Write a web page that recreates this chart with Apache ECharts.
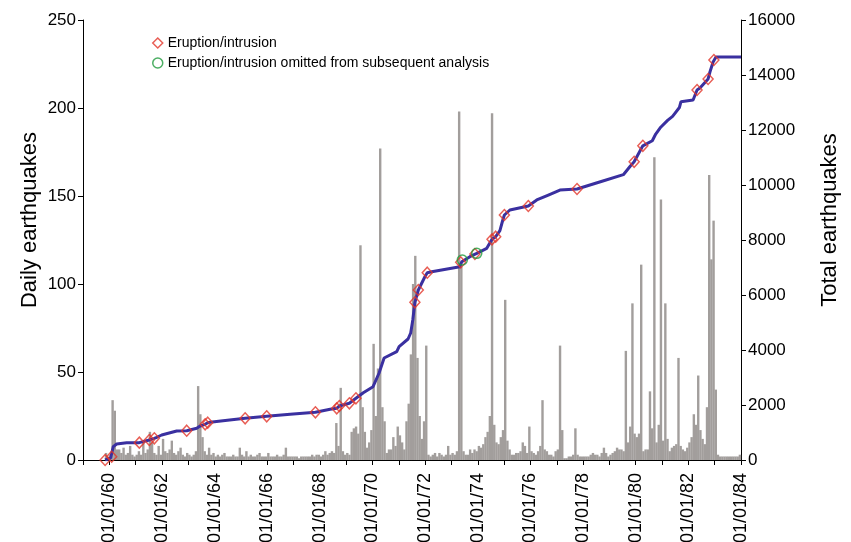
<!DOCTYPE html>
<html>
<head>
<meta charset="utf-8">
<script src="https://cdn.jsdelivr.net/npm/echarts@6/dist/echarts.min.js"></script>
<style>
html,body{margin:0;padding:0;background:#fff;overflow:hidden;}
#chart{width:851px;height:542px;}
</style>
</head>
<body>
<div id="chart"></div>
<script>
// ---- DATA ----
// Peak daily earthquake counts per month, from Jan 1959 to Dec 1983
const barStartYear = 1959;
const dailyQuakes = [
  /*1959*/ 0,0,0,0,0,0,0,0,0,0,4,2,
  /*1960*/ 3,34,28,6,6,4,7,3,4,8,3,2,
  /*1961*/ 3,5,3,11,4,6,16,10,4,3,8,3,
  /*1962*/ 12,5,4,6,11,4,3,5,7,3,2,4,
  /*1963*/ 3,2,3,5,42,26,13,5,3,7,3,4,
  /*1964*/ 2,3,2,3,4,2,2,2,3,2,2,7,
  /*1965*/ 3,2,5,2,3,2,2,3,4,2,2,2,
  /*1966*/ 4,2,2,2,3,2,2,3,7,2,2,2,
  /*1967*/ 2,2,1,2,2,2,2,2,3,2,3,3,
  /*1968*/ 2,3,5,3,4,5,4,21,8,41,5,3,
  /*1969*/ 4,3,16,18,19,15,122,30,16,7,10,17,
  /*1970*/ 66,25,52,177,30,22,4,6,6,13,8,19,
  /*1971*/ 14,10,6,22,32,60,100,116,58,25,12,22,
  /*1972*/ 65,3,2,3,4,2,4,3,2,3,8,3,
  /*1973*/ 4,3,5,198,110,5,3,3,6,4,6,5,
  /*1974*/ 8,7,9,13,16,25,197,20,10,9,13,17,
  /*1975*/ 91,11,6,3,3,4,4,5,10,8,4,19,
  /*1976*/ 5,4,3,5,8,34,6,5,3,3,2,5,
  /*1977*/ 6,65,17,1,1,2,2,3,18,3,2,2,
  /*1978*/ 2,2,2,3,4,3,3,2,4,7,4,2,
  /*1979*/ 3,4,5,7,6,6,5,62,10,19,89,15,
  /*1980*/ 13,15,111,5,6,6,39,18,172,10,20,148,
  /*1981*/ 11,89,12,5,7,8,9,58,8,6,5,7,
  /*1982*/ 10,13,26,20,48,17,12,9,30,162,114,136,
  /*1983*/ 40,3,2,2,2,2,2,2,2,2,2,3
];

// Cumulative number of earthquakes (decimal year, total)
const cumYears = [1959.84,1960.05,1960.09,1960.15,1960.28,1960.66,1961.14,1961.52,1961.71,1961.80,1961.99,1962.56,1962.94,1963.32,1963.45,1963.64,1963.74,1963.83,1964.32,1965.16,1965.98,1966.87,1967.83,1968.39,1968.64,1968.74,1969.12,1969.37,1969.65,1970.02,1970.25,1970.44,1970.92,1971.01,1971.35,1971.45,1971.53,1971.61,1971.74,1971.99,1972.08,1972.25,1973.32,1973.39,1973.70,1973.96,1974.34,1974.54,1974.68,1974.84,1974.95,1975.01,1975.22,1975.92,1976.24,1976.68,1977.12,1977.77,1978.69,1979.53,1979.79,1979.94,1980.27,1980.63,1980.76,1980.95,1981.21,1981.40,1981.66,1981.72,1982.18,1982.33,1982.44,1982.75,1982.82,1982.94,1982.97,1983.05,1984.00];
const cumTotals = [0,73,120,484,582,629,630,727,789,825,909,1055,1066,1153,1236,1298,1356,1371,1429,1516,1589,1662,1735,1844,1880,1964,2062,2244,2447,2665,3164,3709,3938,4120,4400,4618,5091,5735,6182,6665,6810,6847,7029,7211,7393,7516,7698,8025,8120,8338,8727,8909,9091,9236,9455,9636,9818,9855,10127,10375,10683,10843,11425,11611,11854,12102,12349,12498,12818,13029,13091,13455,13527,13855,14109,14473,14545,14655,14655];

// Eruptions / intrusions (decimal year, cumulative total at that time)
const eruptionYears = [1959.84,1960.09,1961.14,1961.52,1961.71,1962.94,1963.64,1963.74,1965.16,1965.98,1967.83,1968.64,1968.74,1969.12,1969.37,1971.61,1971.74,1972.08,1973.35,1973.89,1974.54,1974.68,1975.01,1975.92,1977.77,1979.94,1980.27,1982.33,1982.75,1982.97];
const eruptionTotals = [0,120,630,727,789,1066,1298,1356,1516,1589,1735,1880,1964,2062,2244,5735,6182,6810,7189,7491,8025,8120,8909,9236,9855,10843,11425,13455,13855,14545];

// Eruptions omitted from subsequent analysis
const omittedYears = [1973.41,1973.96];
const omittedTotals = [7273,7516];

// Axis tick labels
const xTickYears = [1960,1962,1964,1966,1968,1970,1972,1974,1976,1978,1980,1982,1984];
const xTickLabels = ['01/01/60','01/01/62','01/01/64','01/01/66','01/01/68','01/01/70','01/01/72','01/01/74','01/01/76','01/01/78','01/01/80','01/01/82','01/01/84'];

// ---- BUILD ----
const barData = dailyQuakes.map((v, i) => [barStartYear + (i + 0.5) / 12, v]);
const lineData = cumYears.map((y, i) => [y, cumTotals[i]]);
const eruptData = eruptionYears.map((y, i) => [y, eruptionTotals[i]]);
const omitData = omittedYears.map((y, i) => [y, omittedTotals[i]]);

const FONT = '"Liberation Sans", Arial, Helvetica, sans-serif';
const TITLE_FONT = '22px "Liberation Sans", Arial, sans-serif';
const axisCommon = {
  axisLine: { show: true, lineStyle: { color: '#000', width: 1 } },
  axisTick: { show: true, length: 5, lineStyle: { color: '#000', width: 1 } },
  splitLine: { show: false }
};

const chart = echarts.init(document.getElementById('chart'), null, { renderer: 'canvas' });
chart.setOption({
  animation: false,
  backgroundColor: '#fff',
  textStyle: { fontFamily: FONT },
  grid: { left: 83, right: 110, top: 20, bottom: 82, outerBoundsMode: 'none', containLabel: false },
  graphic: [
    { type: 'text', silent: true, x: 30, y: 220, rotation: Math.PI / 2,
      style: { text: 'Daily earthquakes', font: TITLE_FONT, fill: '#000', align: 'center', verticalAlign: 'middle', textAlign: 'center', textVerticalAlign: 'middle' } },
    { type: 'text', silent: true, x: 830, y: 220, rotation: Math.PI / 2,
      style: { text: 'Total earthquakes', font: TITLE_FONT, fill: '#000', align: 'center', verticalAlign: 'middle', textAlign: 'center', textVerticalAlign: 'middle' } }
  ],
  legend: {
    orient: 'vertical',
    left: 147,
    top: 31,
    itemWidth: 10,
    itemHeight: 10,
    itemGap: 6,
    textStyle: { fontSize: 14, color: '#000', fontFamily: FONT },
    data: [
      { name: 'Eruption/intrusion', icon: 'diamond', itemStyle: { color: 'rgba(0,0,0,0)', borderColor: '#e2362a', borderWidth: 1.5 } },
      { name: 'Eruption/intrusion omitted from subsequent analysis', icon: 'circle', itemStyle: { color: 'rgba(0,0,0,0)', borderColor: '#1f9a3c', borderWidth: 1.5 } }
    ]
  },
  xAxis: Object.assign({}, axisCommon, {
    type: 'value', min: 1959, max: 1984, interval: 1,
    axisLabel: {
      color: '#000', fontSize: 18, fontFamily: FONT, rotate: 90, margin: 13,
      showMinLabel: true, showMaxLabel: true,
      formatter: function (v) {
        const idx = xTickYears.indexOf(Math.round(v));
        return idx >= 0 ? xTickLabels[idx] : '';
      }
    }
  }),
  yAxis: [
    Object.assign({}, axisCommon, {
      type: 'value', min: 0, max: 250, interval: 50, position: 'left',
      axisLabel: { color: '#000', fontSize: 17, fontFamily: FONT, margin: 7 }
    }),
    Object.assign({}, axisCommon, {
      type: 'value', min: 0, max: 16000, interval: 2000, position: 'right',
      axisLabel: { color: '#000', fontSize: 17, fontFamily: FONT, margin: 7, formatter: function (v) { return String(v); } }
    })
  ],
  series: [
    {
      type: 'bar', name: 'Daily', yAxisIndex: 0, data: barData,
      barWidth: 2.4, itemStyle: { color: '#a29e9c' }, silent: true
    },
    {
      type: 'line', name: 'Total', yAxisIndex: 1, data: lineData,
      symbol: 'none', lineStyle: { color: '#3a30a0', width: 3 }, silent: true
    },
    {
      type: 'scatter', name: 'Eruption/intrusion', yAxisIndex: 1, data: eruptData,
      symbol: 'diamond', symbolSize: [10, 11],
      itemStyle: { color: 'rgba(0,0,0,0)', borderColor: '#e2362a', borderWidth: 1.5 }, z: 5
    },
    {
      type: 'scatter', name: 'Eruption/intrusion omitted from subsequent analysis', yAxisIndex: 1, data: omitData,
      symbol: 'circle', symbolSize: 10,
      itemStyle: { color: 'rgba(0,0,0,0)', borderColor: '#1f9a3c', borderWidth: 1.5 }, z: 6
    }
  ]
});
</script>
</body>
</html>
